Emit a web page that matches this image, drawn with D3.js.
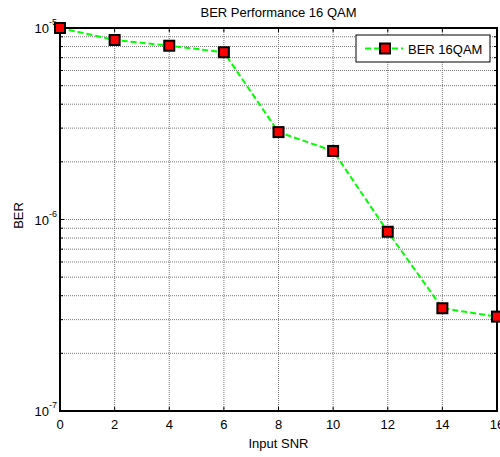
<!DOCTYPE html>
<html>
<head>
<meta charset="utf-8">
<script src="https://cdn.jsdelivr.net/npm/d3@7"></script>
<style>
  body { margin: 0; background: #fff; }
  svg { font-family: "Liberation Sans", Arial, sans-serif; }
</style>
</head>
<body>
<svg id="chart" width="500" height="457"></svg>
<script>
// datos
const snr = [0, 2, 4, 6, 8, 10, 12, 14, 16];
const ber = [1.0e-5, 8.66e-6, 8.08e-6, 7.47e-6, 2.86e-6, 2.28e-6, 8.63e-7, 3.44e-7, 3.11e-7];
const xTicks = [0, 2, 4, 6, 8, 10, 12, 14, 16];
const yDecades = [-5, -6, -7];
const serieNombre = "BER 16QAM";

const svg = d3.select("#chart");
const m = { left: 60, right: 497, top: 28, bottom: 411 };

const x = d3.scaleLinear().domain([0, 16]).range([m.left, m.right]);
const y = d3.scaleLog().domain([1e-7, 1e-5]).range([m.bottom, m.top]);

// valores menores (2..9 por decada)
const menores = [];
[-7, -6].forEach(e => {
  for (let k = 2; k <= 9; k++) menores.push(k * Math.pow(10, e));
});
const mayores = yDecades.map(e => Math.pow(10, e));

const grid = svg.append("g");
// rejilla horizontal
grid.selectAll("line.h")
  .data(menores.concat(mayores))
  .join("line")
  .attr("x1", m.left).attr("x2", m.right)
  .attr("y1", d => y(d)).attr("y2", d => y(d))
  .attr("stroke", "#777")
  .attr("stroke-width", 1)
  .attr("stroke-dasharray", "1,1");
// rejilla vertical
grid.selectAll("line.v")
  .data(xTicks)
  .join("line")
  .attr("x1", d => x(d)).attr("x2", d => x(d))
  .attr("y1", m.top).attr("y2", m.bottom)
  .attr("stroke", "#777")
  .attr("stroke-width", 1)
  .attr("stroke-dasharray", "1,1");

// ticks hacia dentro
const ticks = svg.append("g").attr("stroke", "#000").attr("stroke-width", 1);
xTicks.forEach(t => {
  ticks.append("line").attr("x1", x(t)).attr("x2", x(t)).attr("y1", m.bottom).attr("y2", m.bottom - 4);
  ticks.append("line").attr("x1", x(t)).attr("x2", x(t)).attr("y1", m.top).attr("y2", m.top + 4);
});
menores.concat(mayores).forEach(v => {
  const len = mayores.includes(v) ? 4 : 3;
  ticks.append("line").attr("x1", m.left).attr("x2", m.left + len).attr("y1", y(v)).attr("y2", y(v));
  ticks.append("line").attr("x1", m.right).attr("x2", m.right - len).attr("y1", y(v)).attr("y2", y(v));
});

// caja
svg.append("rect")
  .attr("x", m.left).attr("y", m.top)
  .attr("width", m.right - m.left).attr("height", m.bottom - m.top)
  .attr("fill", "none").attr("stroke", "#000").attr("stroke-width", 2);

// etiquetas eje x
svg.append("g").selectAll("text")
  .data(xTicks)
  .join("text")
  .attr("x", d => x(d)).attr("y", 429)
  .attr("text-anchor", "middle")
  .attr("font-size", 13)
  .text(d => d);

// etiquetas eje y (10^n)
const yl = svg.append("g").selectAll("text")
  .data(yDecades)
  .join("text")
  .attr("x", 57).attr("y", d => y(Math.pow(10, d)) + 5)
  .attr("text-anchor", "end")
  .attr("font-size", 13);
yl.append("tspan").text("10");
yl.append("tspan").attr("dy", -8).attr("font-size", 9).text(d => d);

// titulos
svg.append("text").attr("x", (m.left + m.right) / 2).attr("y", 17)
  .attr("text-anchor", "middle").attr("font-size", 13).text("BER Performance 16 QAM");
svg.append("text").attr("x", (m.left + m.right) / 2).attr("y", 448)
  .attr("text-anchor", "middle").attr("font-size", 13).text("Input SNR");
svg.append("text").attr("transform", `translate(23,${(m.top + m.bottom) / 2 - 4}) rotate(-90)`)
  .attr("text-anchor", "middle").attr("font-size", 13).text("BER");

// serie
const pts = snr.map((s, i) => [s, ber[i]]);
svg.append("path")
  .datum(pts)
  .attr("fill", "none")
  .attr("stroke", "#00ff00")
  .attr("stroke-width", 2)
  .attr("stroke-dasharray", "6,3")
  .attr("d", d3.line().x(d => x(d[0])).y(d => y(d[1])));

svg.append("g").selectAll("rect")
  .data(pts)
  .join("rect")
  .attr("x", d => x(d[0]) - 5).attr("y", d => y(d[1]) - 5)
  .attr("width", 10).attr("height", 10)
  .attr("fill", "#ff0000").attr("stroke", "#000").attr("stroke-width", 2);

// leyenda
const leg = svg.append("g");
leg.append("rect").attr("x", 356).attr("y", 35).attr("width", 134).attr("height", 27)
  .attr("fill", "#fff").attr("stroke", "#000").attr("stroke-width", 1);
leg.append("line").attr("x1", 365).attr("x2", 403).attr("y1", 48.5).attr("y2", 48.5)
  .attr("stroke", "#00ff00").attr("stroke-width", 2).attr("stroke-dasharray", "6,3");
leg.append("rect").attr("x", 380).attr("y", 43.5).attr("width", 10).attr("height", 10)
  .attr("fill", "#ff0000").attr("stroke", "#000").attr("stroke-width", 2);
leg.append("text").attr("x", 408).attr("y", 54).attr("font-size", 13).text(serieNombre);
</script>
</body>
</html>
